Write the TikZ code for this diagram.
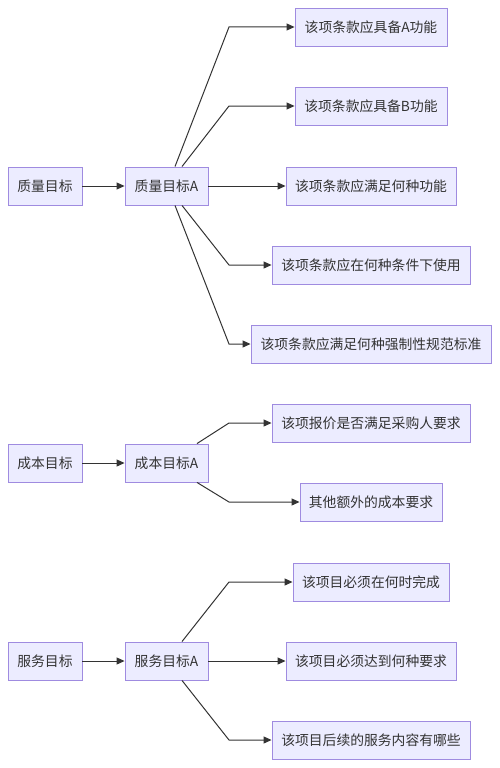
\documentclass[tikz,border=0pt]{standalone}
\usepackage{fontspec}
\newfontfamily\cjk{Noto Sans CJK SC}
\usetikzlibrary{arrows.meta}
\definecolor{boxfill}{HTML}{ECECFF}
\definecolor{boxline}{HTML}{9F8BE0}
\definecolor{txt}{HTML}{333333}
\tikzset{
  box/.style={draw=boxline, fill=boxfill, line width=0.9pt, minimum height=38pt,
    inner sep=0pt, text=txt, font=\cjk\fontsize{13.8}{16}\selectfont},
  arr/.style={draw=txt, line width=1pt, -{Triangle[length=8pt,width=7pt]}}
}
\begin{document}
\begin{tikzpicture}[x=1pt,y=-1pt]
\useasboundingbox (0,0) rectangle (500,768);
\coordinate (e) at (229,0);
% quality
\node[box, minimum width=74pt] (q) at (45,186) {质量目标};
\node[box, minimum width=83pt] (qa) at (166.5,186) {质量目标A};
\node[box, minimum width=152pt] (q1) at (371,27) {该项条款应具备A功能};
\node[box, minimum width=152pt] (q2) at (371,106) {该项条款应具备B功能};
\node[box, minimum width=170pt] (q3) at (371,186) {该项条款应满足何种功能};
\node[box, minimum width=198pt] (q4) at (371,265) {该项条款应在何种条件下使用};
\node[box, minimum width=240pt] (q5) at (371,344) {该项条款应满足何种强制性规范标准};
\draw[arr] (q) -- (qa);
\draw[arr] ([xshift=8.5pt]qa.north) -- (e |- q1.west) -- (q1.west);
\draw[arr] ([xshift=15.5pt]qa.north) -- (e |- q2.west) -- (q2.west);
\draw[arr] (qa) -- (q3);
\draw[arr] ([xshift=15.5pt]qa.south) -- (e |- q4.west) -- (q4.west);
\draw[arr] ([xshift=8.5pt]qa.south) -- (e |- q5.west) -- (q5.west);
% cost
\node[box, minimum width=74pt] (c) at (45,463) {成本目标};
\node[box, minimum width=83pt] (ca) at (166.5,463) {成本目标A};
\node[box, minimum width=198pt] (c1) at (371,423) {该项报价是否满足采购人要求};
\node[box, minimum width=142pt] (c2) at (371,502) {其他额外的成本要求};
\draw[arr] (c) -- (ca);
\draw[arr] ([xshift=30.5pt]ca.north) -- (e |- c1.west) -- (c1.west);
\draw[arr] ([xshift=30.5pt]ca.south) -- (e |- c2.west) -- (c2.west);
% service
\node[box, minimum width=74pt] (s) at (45,661) {服务目标};
\node[box, minimum width=83pt] (sa) at (166.5,661) {服务目标A};
\node[box, minimum width=156pt] (s1) at (371,582) {该项目必须在何时完成};
\node[box, minimum width=170pt] (s2) at (371,661) {该项目必须达到何种要求};
\node[box, minimum width=198pt] (s3) at (371,740) {该项目后续的服务内容有哪些};
\draw[arr] (s) -- (sa);
\draw[arr] ([xshift=15.5pt]sa.north) -- (e |- s1.west) -- (s1.west);
\draw[arr] (sa) -- (s2);
\draw[arr] ([xshift=15.5pt]sa.south) -- (e |- s3.west) -- (s3.west);
\end{tikzpicture}
\end{document}
